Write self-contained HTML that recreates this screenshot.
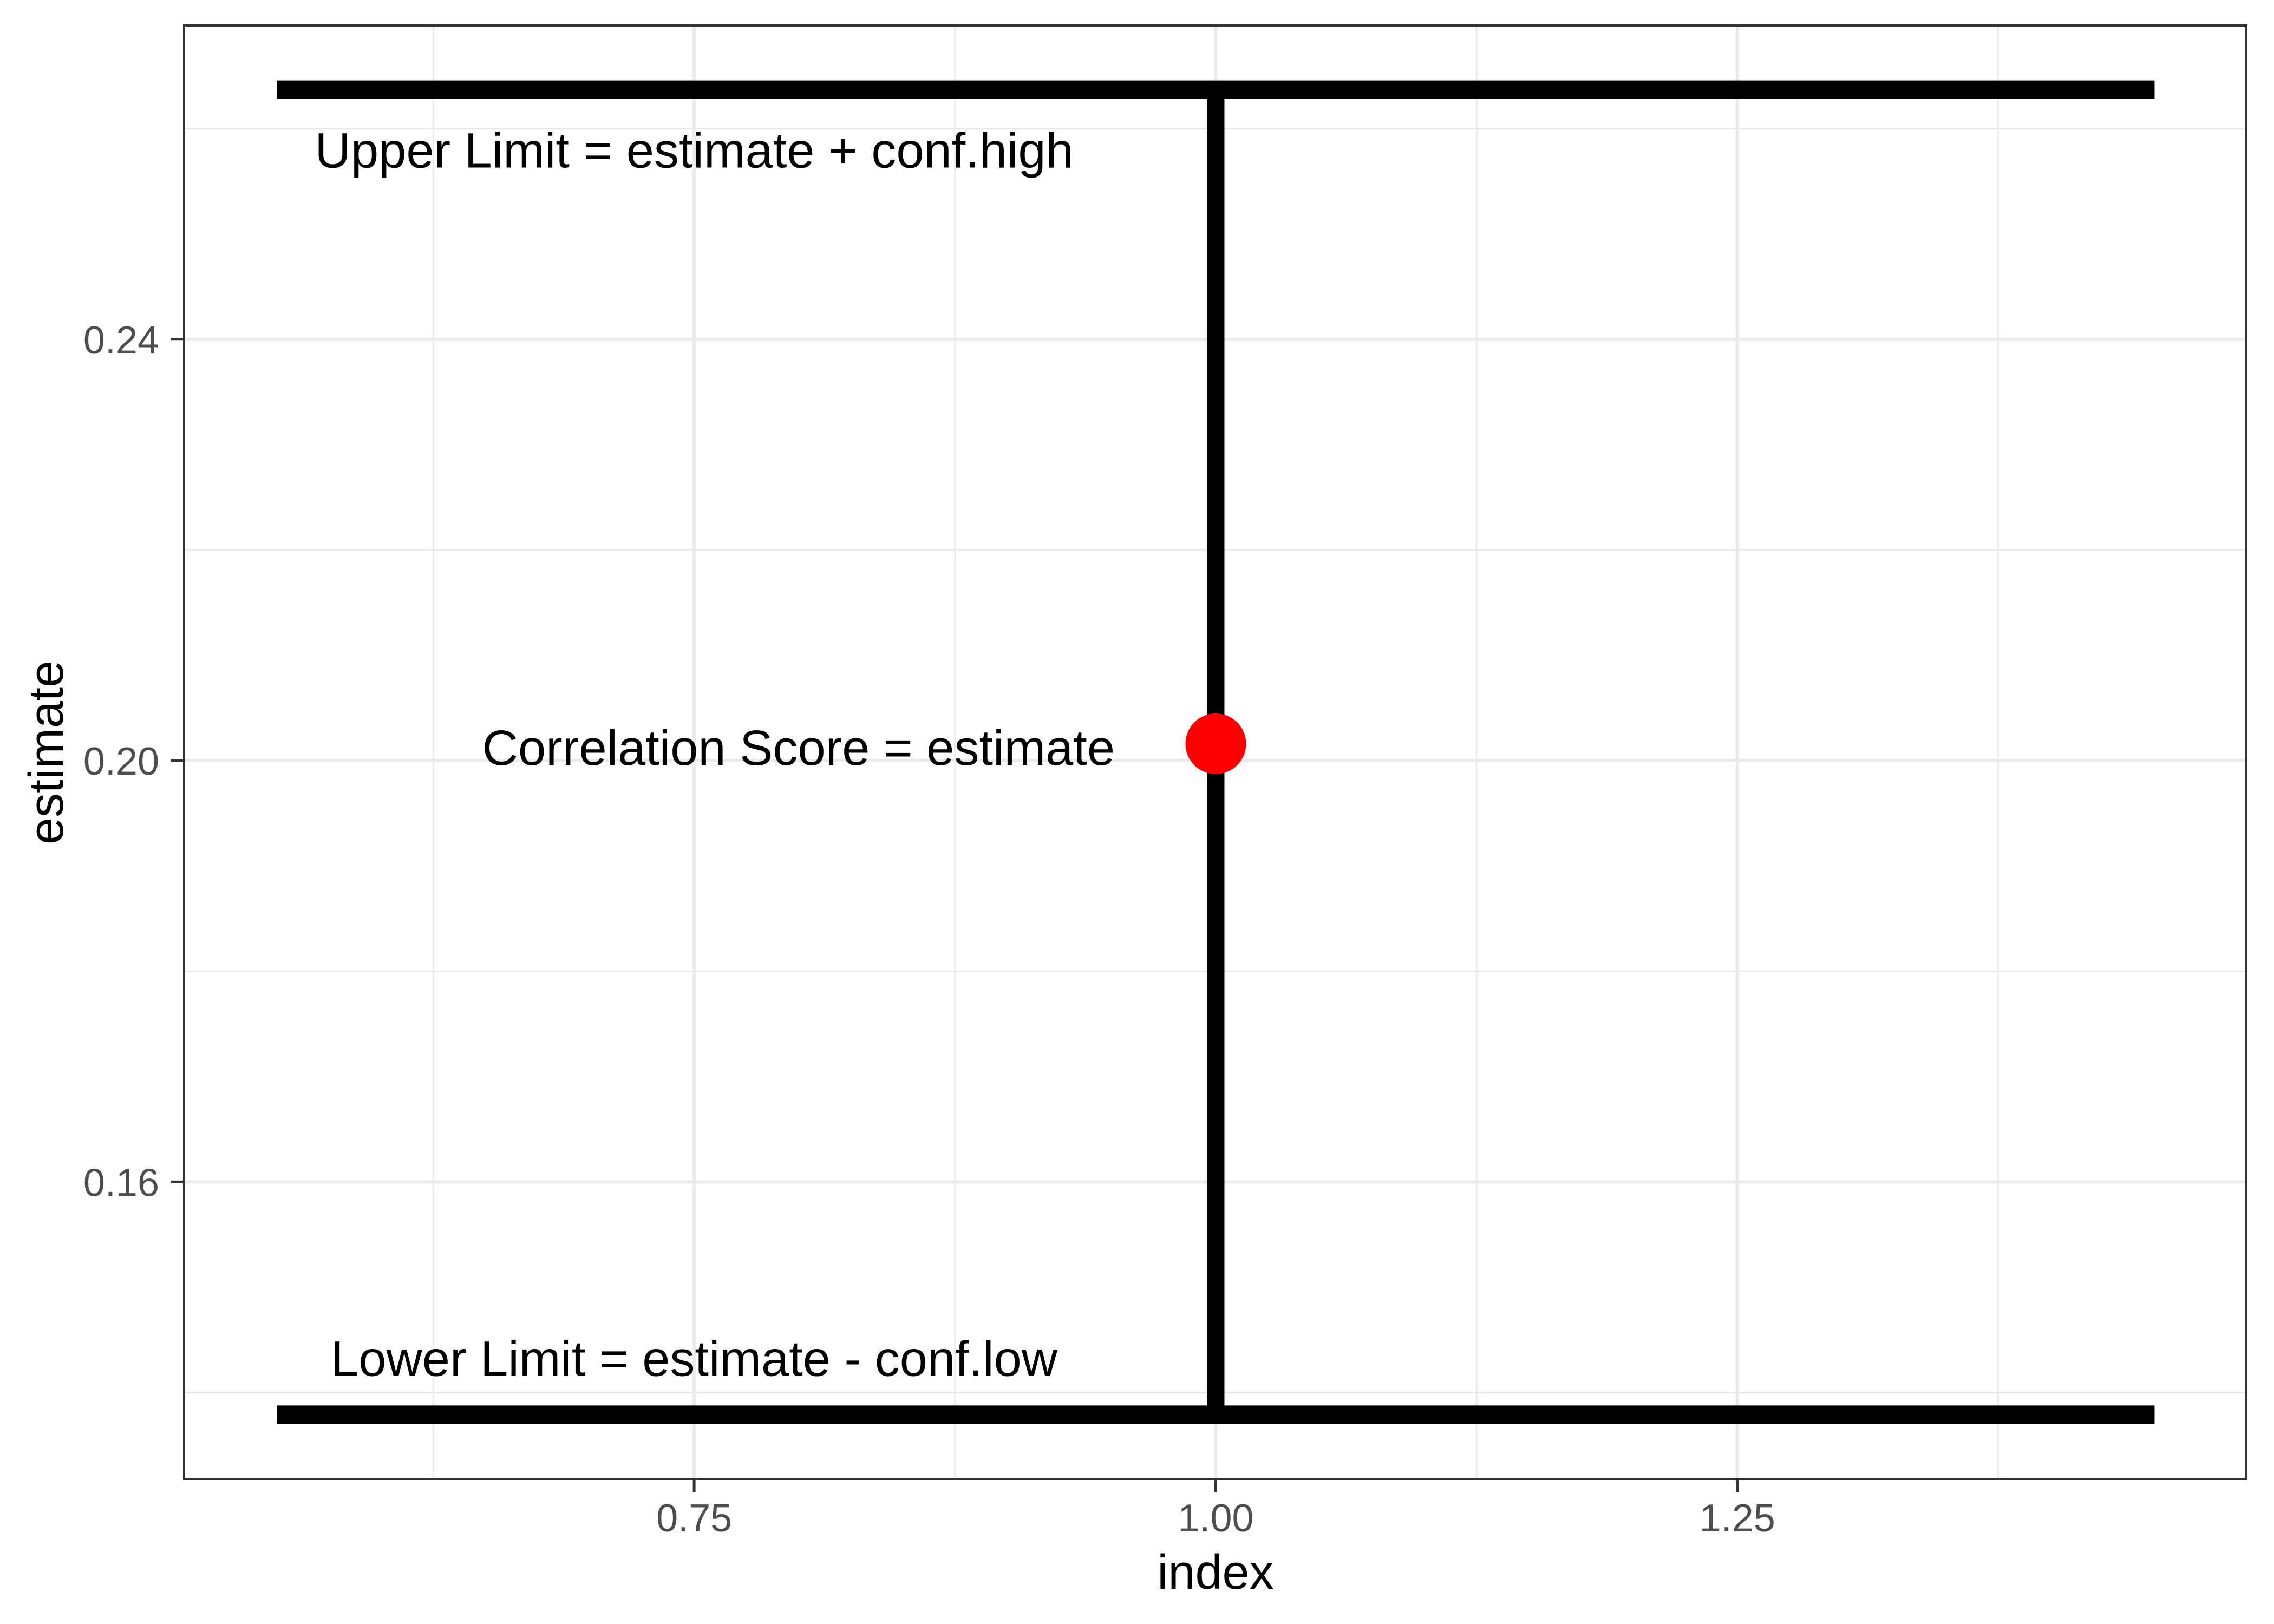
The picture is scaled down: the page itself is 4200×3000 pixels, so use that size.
<!DOCTYPE html>
<html><head><meta charset="utf-8"><style>
html,body{margin:0;padding:0;background:#fff;}
svg{display:block;font-family:"Liberation Sans",Arial,sans-serif;}
</style></head><body>
<svg id="chart" width="4200" height="3000" viewBox="0 0 4200 3000">
<rect x="0" y="0" width="4200" height="3000" fill="#fff"/>
<g id="grid"></g>
<g id="marks"></g>
<g id="axes"></g>
<rect x="340" y="47" width="3809" height="2685" fill="none" stroke="#333" stroke-width="4"/>
<text x="2245" y="2935" font-size="90" text-anchor="middle" fill="#000">index</text>
<text x="0" y="0" font-size="90" text-anchor="middle" fill="#000" transform="translate(116,1390) rotate(-90)">estimate</text>
</svg>
<script>
const xTicks=[0.75,1.00,1.25];
const xTickLabels=["0.75","1.00","1.25"];
const xMinor=[0.625,0.875,1.125,1.375];
const yTicks=[0.16,0.20,0.24];
const yTickLabels=["0.16","0.20","0.24"];
const yMinor=[0.14,0.18,0.22,0.26];
const idx=[1.0];
const estimate=[0.2016];
const upper=[0.2637];
const lower=[0.1379];
const hbarStart=[0.55];
const hbarEnd=[1.45];
const labels=["Upper Limit = estimate + conf.high","Correlation Score = estimate","Lower Limit = estimate - conf.low"];
const labelX=[0.75,0.80,0.75];
const labelY=[0.2563,0.1996,0.1416];

const X0=340,X1=4149,Y0=47,Y1=2732;
const xMin=0.5055,xMax=1.494,yMin=0.1318,yMax=0.2698;
const sx=v=>X0+(v-xMin)/(xMax-xMin)*(X1-X0);
const sy=v=>Y1-(v-yMin)/(yMax-yMin)*(Y1-Y0);
const NS="http://www.w3.org/2000/svg";
function mk(tag,attrs,parent){const e=document.createElementNS(NS,tag);for(const k in attrs)e.setAttribute(k,attrs[k]);parent.appendChild(e);return e;}
const grid=document.getElementById('grid'),marks=document.getElementById('marks'),axes=document.getElementById('axes');

xMinor.forEach(v=>{const l=mk('line',{x1:sx(v),x2:sx(v),y1:Y0,y2:Y1,stroke:'#EBEBEB','stroke-width':3},grid);

});
yMinor.forEach(v=>{const l=mk('line',{x1:X0,x2:X1,y1:sy(v),y2:sy(v),stroke:'#EBEBEB','stroke-width':3},grid);

});
xTicks.forEach((v,i)=>{const l=mk('line',{x1:sx(v),x2:sx(v),y1:Y0,y2:Y1,stroke:'#EBEBEB','stroke-width':6},grid);


const t=mk('line',{x1:sx(v),x2:sx(v),y1:Y1,y2:Y1+24,stroke:'#333','stroke-width':5},axes);


const tx=mk('text',{x:sx(v),y:2829,'font-size':72,'text-anchor':'middle',fill:'#4D4D4D'},axes);tx.textContent=xTickLabels[i];

});
yTicks.forEach((v,i)=>{const l=mk('line',{x1:X0,x2:X1,y1:sy(v),y2:sy(v),stroke:'#EBEBEB','stroke-width':6},grid);


const t=mk('line',{x1:X0-24,x2:X0,y1:sy(v),y2:sy(v),stroke:'#333','stroke-width':5},axes);


const tx=mk('text',{x:294,y:sy(v)+26,'font-size':72,'text-anchor':'end',fill:'#4D4D4D'},axes);tx.textContent=yTickLabels[i];

});

idx.forEach((v,i)=>{
const u=mk('line',{x1:sx(hbarStart[i]),x2:sx(hbarEnd[i]),y1:sy(upper[i]),y2:sy(upper[i]),stroke:'#000','stroke-width':34},marks);


const lo=mk('line',{x1:sx(hbarStart[i]),x2:sx(hbarEnd[i]),y1:sy(lower[i]),y2:sy(lower[i]),stroke:'#000','stroke-width':34},marks);


const vl=mk('line',{x1:sx(v),x2:sx(v),y1:sy(upper[i]),y2:sy(lower[i]),stroke:'#000','stroke-width':32},marks);


const c=mk('circle',{cx:sx(v),cy:sy(estimate[i]),r:56,fill:'#FF0000'},marks);

});
const lblNames=['upper-limit-label','correlation-score-label','lower-limit-label'];
labels.forEach((s,i)=>{const t=mk('text',{x:sx(labelX[i]),y:sy(labelY[i]),'font-size':92,'text-anchor':'middle',fill:'#000'},marks);t.textContent=s;

});
</script>
</body></html>
